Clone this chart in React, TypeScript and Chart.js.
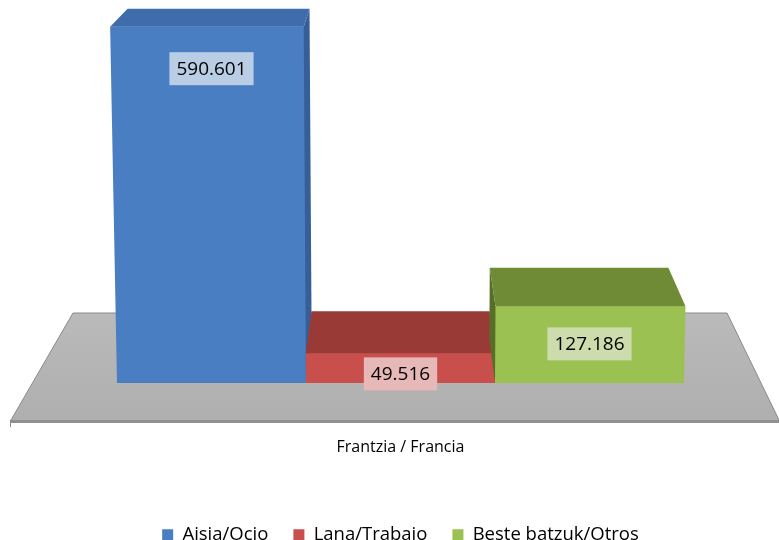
import React, { useEffect, useRef } from "react";
import { Chart, registerables } from "chart.js";

Chart.register(...registerables);

const categories = ["Frantzia / Francia"];
const seriesNames = ["Aisia/Ocio", "Lana/Trabajo", "Beste batzuk/Otros"];
const aisiaValues = [590601];
const lanaValues = [49516];
const besteValues = [127186];
const yMax = 600000;

const frontColors = ["#4a7ec3", "#c94f4c", "#9bc152"];
const topColors = ["#3f6caa", "#9a3a37", "#6f8b35"];
const sideColors = ["#365f98", "#7d2d2b", "#566e28"];
const labelBg = ["#b9cde5", "#e6b9b8", "#cddcac"];

const FONT = "'Open Sans', 'Noto Sans', sans-serif";

function fmt(v: number): string {
  const s = Math.round(v).toString();
  return s.replace(/\B(?=(\d{3})+(?!\d))/g, ".");
}

const depthAt = (y: number) => 16 + 0.0734 * y;
const SHIFT = 0.06;
const SPREAD = 0.000068;

const poly = (ctx: CanvasRenderingContext2D, pts: number[][], fill: any) => {
  ctx.beginPath();
  ctx.moveTo(pts[0][0], pts[0][1]);
  for (let i = 1; i < pts.length; i++) ctx.lineTo(pts[i][0], pts[i][1]);
  ctx.closePath();
  ctx.fillStyle = fill;
  ctx.fill();
};

const threeD = {
  id: "threeD",
  beforeDatasetsDraw(chart: any) {
    const { ctx, chartArea, scales } = chart;
    const base = scales.y.getPixelForValue(0);
    const L = chartArea.left;
    const R = chartArea.right;
    const backY = base - 70;
    const frontY = base + 37;
    ctx.save();
    const g = ctx.createLinearGradient(0, backY, 0, frontY);
    g.addColorStop(0, "#bababa");
    g.addColorStop(1, "#afafaf");
    poly(ctx, [[L + 51, backY], [R - 52, backY], [R, frontY], [L - 11, frontY]], g);
    poly(ctx, [[L - 11, frontY], [R, frontY], [R, frontY + 3], [L - 11, frontY + 3]], "#8f8f8f");
    ctx.strokeStyle = "#8a8a8a";
    ctx.lineWidth = 1;
    ctx.beginPath();
    ctx.moveTo(L - 11, frontY);
    ctx.lineTo(L + 51, backY);
    ctx.lineTo(R - 52, backY);
    ctx.lineTo(R, frontY);
    ctx.stroke();
    ctx.beginPath();
    ctx.moveTo(L - 11.5, frontY);
    ctx.lineTo(L - 11.5, frontY + 7);
    ctx.stroke();
    ctx.restore();
  },
  afterDatasetsDraw(chart: any) {
    const { ctx, chartArea } = chart;
    const vx = (chartArea.left + chartArea.right) / 2;
    ctx.save();
    const labels: any[] = [];
    chart.data.datasets.forEach((ds: any, i: number) => {
      const meta = chart.getDatasetMeta(i);
      meta.data.forEach((bar: any, j: number) => {
        const { x, y, base, width } = bar.getProps(["x", "y", "base", "width"], true);
        const left = x - width / 2;
        const right = x + width / 2;
        const top = y;
        const bottom = base;
        const h = bottom - top;
        const tlx = left + (left - vx) * SPREAD * h;
        const trx = right + (right - vx) * SPREAD * h;
        poly(ctx, [[left, bottom], [right, bottom], [trx, top], [tlx, top]], frontColors[i]);
        const d = depthAt(top);
        const by = top - d;
        const btlx = tlx + (vx - tlx) * SHIFT;
        const btrx = trx + (vx - trx) * SHIFT;
        const bby = bottom - depthAt(bottom);
        if (right < vx - 10) {
          poly(ctx, [[trx, top], [btrx, by], [right + (vx - right) * SHIFT, bby], [right, bottom]], sideColors[i]);
        } else if (left > vx + 10) {
          poly(ctx, [[tlx, top], [btlx, by], [left + (vx - left) * SHIFT, bby], [left, bottom]], sideColors[i]);
        }
        poly(ctx, [[tlx, top], [trx, top], [btrx, by], [btlx, by]], topColors[i]);
        labels.push({ x, cy: top + Math.min(42, 10 + 0.36 * h), text: fmt(ds.data[j]), bg: labelBg[i] });
      });
    });
    ctx.font = `19px ${FONT}`;
    ctx.textAlign = "center";
    ctx.textBaseline = "middle";
    labels.forEach((l) => {
      const tw = ctx.measureText(l.text).width;
      const bw = tw + 14;
      const bh = 33;
      ctx.fillStyle = l.bg;
      ctx.fillRect(l.x - bw / 2, l.cy - bh / 2, bw, bh);
      ctx.fillStyle = "#000000";
      ctx.fillText(l.text, l.x, l.cy + 1);
    });
    ctx.restore();
  },
};

export default function App() {
  const ref = useRef<HTMLCanvasElement | null>(null);
  useEffect(() => {
    document.body.style.margin = "0";
    const canvas = ref.current!;
    const chart = new Chart(canvas, {
      type: "bar",
      data: {
        labels: categories,
        datasets: [
          { label: seriesNames[0], data: aisiaValues, backgroundColor: frontColors[0], borderWidth: 0 },
          { label: seriesNames[1], data: lanaValues, backgroundColor: frontColors[1], borderWidth: 0 },
          { label: seriesNames[2], data: besteValues, backgroundColor: frontColors[2], borderWidth: 0 },
        ],
      },
      options: {
        responsive: false,
        maintainAspectRatio: false,
        animation: false,
        devicePixelRatio: 1,
        layout: { padding: { top: 21, left: 22, right: 0, bottom: 0 } },
        datasets: { bar: { categoryPercentage: 0.749, barPercentage: 1 } },
        scales: {
          y: { display: false, min: 0, max: yMax },
          x: {
            grid: { display: false, drawTicks: false },
            border: { display: false },
            ticks: { padding: 55, color: "#000000", font: { family: FONT, size: 16 } },
            afterFit: (scale: any) => {
              scale.height = 117.5;
            },
          },
        },
        plugins: {
          legend: {
            position: "bottom",
            labels: {
              boxWidth: 11,
              boxHeight: 11,
              padding: 25,
              color: "#000000",
              font: { family: FONT, size: 18.5 },
            },
          },
          tooltip: { enabled: false },
        },
      },
      plugins: [threeD],
    } as any);
    return () => chart.destroy();
  }, []);
  return (
    <div style={{ width: 779, height: 540, overflow: "hidden", position: "relative", background: "#ffffff" }}>
      <canvas ref={ref} width={779} height={554} style={{ display: "block" }} />
    </div>
  );
}
